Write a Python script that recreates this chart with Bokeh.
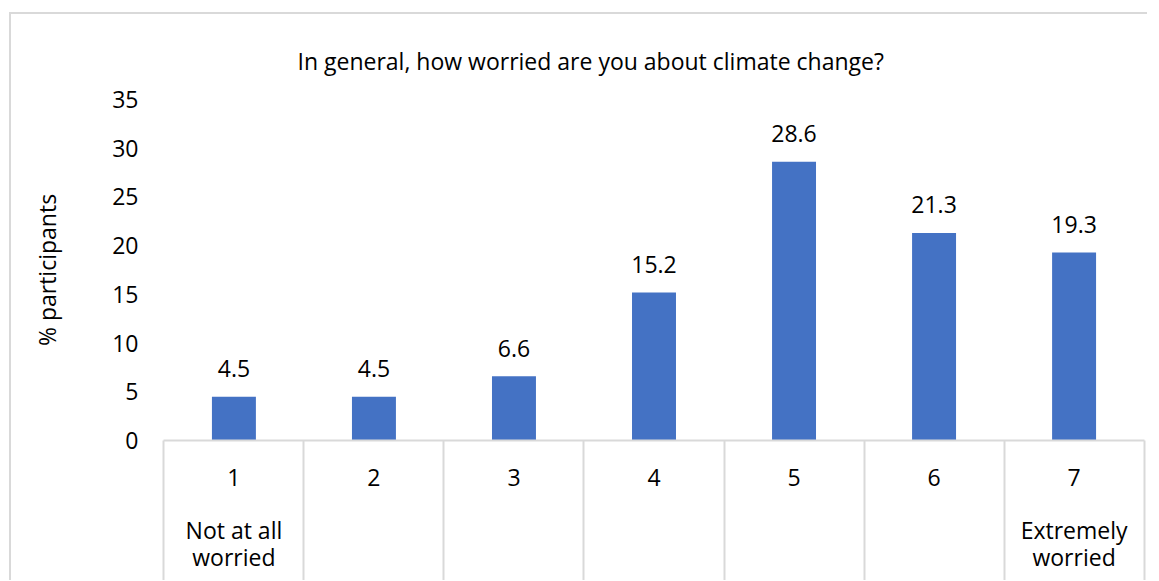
from bokeh.plotting import figure
from bokeh.layouts import column
from bokeh.models import Range1d, LinearAxis, FixedTicker, Title
from bokeh.core.properties import value
from bokeh.embed import file_html
from bokeh.resources import INLINE

title_text = "In general, how worried are you about climate change?"
categories = ["1", "2", "3", "4", "5", "6", "7"]
sublabels = ["Not at all\nworried", "", "", "", "", "", "Extremely\nworried"]
percent = [4.5, 4.5, 6.6, 15.2, 28.6, 21.3, 19.3]
y_ticks = [0, 5, 10, 15, 20, 25, 30, 35]
y_label = "% participants"

FONT = "Open Sans"
FS = "23px"
TXT = "#000000"
GRID = "#d9d9d9"
BAR = "#4472C4"

# figure placed inside a bordered container starting at page (11, 14)
OX, OY = 11, 14
SEP = 150  # separator length below the category axis, px
n = len(categories)
pos = list(range(1, n + 1))
bounds = [i + 0.5 for i in range(n + 1)]

p = figure(frame_width=983, frame_height=341, output_backend="svg", toolbar_location=None,
           x_range=Range1d(0.49, n + 0.51), y_range=Range1d(0, 35),
           x_axis_location=None, y_axis_location=None,
           min_border_left=162 - OX, min_border_right=2,
           min_border_top=99 - OY, min_border_bottom=140)
p.grid.visible = False
p.outline_line_color = None
p.background_fill_color = "white"
p.border_fill_color = "white"

p.add_layout(Title(text=title_text, align="left", offset=135, standoff=42,
                   vertical_align="top",
                   text_font=FONT, text_font_size=FS, text_font_style="normal",
                   text_color=TXT), "above")

yaxis = LinearAxis(ticker=FixedTicker(ticks=y_ticks), axis_label=y_label)
yaxis.axis_line_color = None
yaxis.major_tick_line_color = None
yaxis.minor_tick_line_color = None
yaxis.major_tick_out = 0
yaxis.major_tick_in = 0
yaxis.major_label_standoff = 24
yaxis.major_label_text_font = FONT
yaxis.major_label_text_font_size = FS
yaxis.major_label_text_color = TXT
yaxis.axis_label_text_font = FONT
yaxis.axis_label_text_font_size = FS
yaxis.axis_label_text_font_style = "normal"
yaxis.axis_label_text_color = TXT
yaxis.axis_label_standoff = 46
p.add_layout(yaxis, "left")

xlabels = {x: (f"{c}\n\n{s}" if s else c) for x, c, s in zip(pos, categories, sublabels)}
xaxis = LinearAxis(ticker=FixedTicker(ticks=pos, minor_ticks=bounds),
                   bounds=(bounds[0], bounds[-1]), major_label_overrides=xlabels)
xaxis.axis_line_color = GRID
xaxis.axis_line_width = 2
xaxis.major_tick_line_color = None
xaxis.major_tick_out = 0
xaxis.major_tick_in = 0
xaxis.minor_tick_line_color = GRID
xaxis.minor_tick_line_width = 2
xaxis.minor_tick_in = 0
xaxis.minor_tick_out = SEP
xaxis.major_label_standoff = 20 - SEP
xaxis.major_label_text_font = FONT
xaxis.major_label_text_font_size = FS
xaxis.major_label_text_color = TXT
xaxis.major_label_text_line_height = 0.84
p.add_layout(xaxis, "below")

p.vbar(x=pos, top=percent, width=0.314, color=BAR, line_color=None)

p.text(x=pos, y=percent, text=[f"{v}" for v in percent], y_offset=-28, text_align="center",
       text_baseline="middle", text_font=value(FONT), text_font_size=FS, text_color=TXT)

layout = column(p, styles={"border-left": "2px solid #d9d9d9",
                           "border-top": "2px solid #d9d9d9",
                           "margin-left": "9px", "margin-top": "12px"})

open("out.html", "w").write(file_html(layout, INLINE))
